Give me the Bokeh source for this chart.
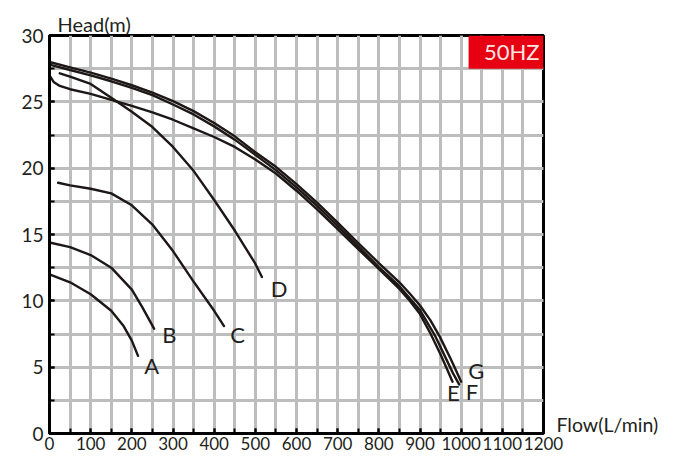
from bokeh.plotting import figure
from bokeh.models import (Range1d, SingleIntervalTicker, FixedTicker, Label, BoxAnnotation,
                          ColumnDataSource, LinearAxis)
from bokeh.core.properties import value
from bokeh.embed import file_html
from bokeh.resources import INLINE

# ---- data (flow L/min, head m) ----
A_Q = [0, 50, 100, 150, 180, 200, 215]
A_H = [12.0, 11.4, 10.5, 9.25, 8.1, 7.0, 5.85]

B_Q = [0, 50, 100, 150, 200, 225, 254]
B_H = [14.4, 14.05, 13.45, 12.5, 10.85, 9.55, 7.9]

C_Q = [21, 50, 100, 150, 200, 250, 300, 350, 400, 424]
C_H = [18.9, 18.7, 18.45, 18.1, 17.2, 15.75, 13.75, 11.45, 9.25, 8.1]

D_Q = [25, 50, 100, 150, 200, 250, 300, 350, 400, 450, 500, 516]
D_H = [27.15, 26.9, 26.35, 25.3, 24.25, 23.1, 21.6, 19.8, 17.6, 15.3, 12.8, 11.8]

E_Q = [0, 10, 25, 50, 100, 150, 200, 250, 300, 350, 400, 450, 500, 550, 600,
       650, 700, 750, 800, 850, 875, 900, 926, 950, 965, 979]
E_H = [27.0, 26.5, 26.2, 25.95, 25.6, 25.15, 24.7, 24.2, 23.65, 23.0, 22.35, 21.6,
       20.65, 19.6, 18.3, 16.9, 15.4, 13.9, 12.4, 10.9, 10.0, 9.0, 7.5, 5.95, 4.9, 3.9]

F_Q = [0, 50, 100, 150, 200, 250, 300, 350, 400, 450, 500, 550, 600, 650, 700,
       750, 800, 850, 875, 900, 936, 960, 980, 995]
F_H = [27.8, 27.4, 27.0, 26.55, 26.05, 25.5, 24.8, 24.05, 23.15, 22.15, 21.0, 19.85,
       18.55, 17.15, 15.65, 14.1, 12.55, 11.1, 10.2, 9.3, 7.4, 5.85, 4.55, 3.7]

G_Q = [0, 50, 100, 150, 200, 250, 300, 350, 400, 450, 500, 550, 600, 650, 700,
       750, 800, 850, 875, 900, 925, 948, 975, 1000]
G_H = [28.0, 27.6, 27.2, 26.75, 26.25, 25.7, 25.05, 24.3, 23.4, 22.4, 21.2, 20.1,
       18.8, 17.4, 15.9, 14.35, 12.85, 11.4, 10.55, 9.65, 8.55, 7.3, 5.6, 3.9]

curve_names = ["A", "B", "C", "D", "E", "F", "G"]
label_Q = [248, 291, 457, 558, 981, 1026, 1037]
label_H = [5.1, 7.5, 7.45, 10.95, 3.1, 3.15, 4.75]

x_title = "Flow(L/min)"
y_title = "Head(m)"
badge = "50HZ"

FONT = "Lato"
INK = "#231f20"
CURVE = "#1e1718"
GRID = "#bdbdbd"

p = figure(width=661, height=459, output_backend="svg", toolbar_location=None,
           x_range=Range1d(0, 1200), y_range=Range1d(0, 30),
           min_border_left=49, min_border_right=118,
           min_border_top=35, min_border_bottom=26)
p.background_fill_color = "white"
p.border_fill_color = "white"
p.outline_line_color = "black"
p.outline_line_width = 3

p.title.text = y_title
p.title.align = "left"
p.title.offset = 8
p.title.standoff = 0
p.title.text_font = FONT
p.title.text_font_size = "20px"
p.title.text_font_style = "normal"
p.title.text_color = INK

p.xaxis.ticker = SingleIntervalTicker(interval=100, num_minor_ticks=2)
p.yaxis.ticker = SingleIntervalTicker(interval=5, num_minor_ticks=2)

for g in (p.xgrid[0], p.ygrid[0]):
    g.grid_line_color = GRID
    g.grid_line_width = 3
    g.minor_grid_line_color = GRID
    g.minor_grid_line_width = 3

for ax in (p.xaxis[0], p.yaxis[0]):
    ax.axis_line_color = "black"
    ax.axis_line_width = 3
    ax.major_tick_in = 5
    ax.major_tick_out = 0
    ax.minor_tick_in = 5
    ax.minor_tick_out = 0
    ax.major_tick_line_color = "black"
    ax.major_tick_line_width = 2
    ax.minor_tick_line_color = "black"
    ax.minor_tick_line_width = 2
    ax.major_label_text_font = FONT
    ax.major_label_text_color = INK

p.xaxis.major_label_text_font_size = "17px"
p.yaxis.major_label_text_font_size = "19px"
p.xaxis.major_label_standoff = 3
p.yaxis.major_label_standoff = 6

# x-axis title drawn at the right end of the axis, level with it
flow_axis = LinearAxis(ticker=FixedTicker(ticks=[0.7]), major_label_overrides={0.7: x_title},
                       axis_line_color=None, major_tick_line_color=None, minor_tick_line_color=None,
                       major_tick_in=0, major_tick_out=0, major_label_standoff=13,
                       major_label_text_font=FONT, major_label_text_font_size="19.5px",
                       major_label_text_color=INK)
p.add_layout(flow_axis, "right")

series = [(A_Q, A_H), (B_Q, B_H), (C_Q, C_H), (D_Q, D_H), (E_Q, E_H), (F_Q, F_H), (G_Q, G_H)]
for q, h in series:
    p.line(q, h, line_color=CURVE, line_width=2.4, line_join="round", line_cap="round")

src = ColumnDataSource(dict(x=label_Q, y=label_H, t=curve_names))
p.text(x="x", y="y", text="t", source=src, text_font=value(FONT), text_font_size="22px",
       text_color=INK, text_align="center", text_baseline="middle")

p.add_layout(BoxAnnotation(left=1018, right=1200, top=30, bottom=27.5,
                           fill_color="#e60012", fill_alpha=1.0, line_color=None))
p.add_layout(Label(x=1123, y=28.77, text=badge, text_align="center", text_baseline="middle",
                   text_color="#fde6e4", text_font=FONT, text_font_size="22px"))

open("out.html", "w").write(file_html(p, INLINE))
